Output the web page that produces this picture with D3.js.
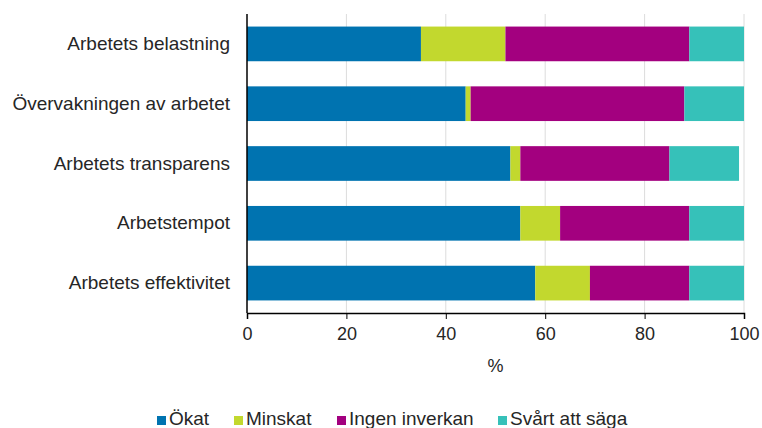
<!DOCTYPE html>
<html>
<head>
<meta charset="utf-8">
<script src="https://cdn.jsdelivr.net/npm/d3@7"></script>
<style>
    body { margin: 0; background: #fff; }
    svg text { font-family: 'Liberation Sans', Arial, sans-serif; fill: #262626; }
</style>
</head>
<body>
<div id="chart"></div>
<script>
const CATEGORIES = [
    'Arbetets belastning',
    'Övervakningen av arbetet',
    'Arbetets transparens',
    'Arbetstempot',
    'Arbetets effektivitet'
];
const SERIES = ['Ökat', 'Minskat', 'Ingen inverkan', 'Svårt att säga'];
const OKAT = [35, 44, 53, 55, 58];
const MINSKAT = [17, 1, 2, 8, 11];
const INGEN = [37, 43, 30, 26, 20];
const SVART = [11, 12, 14, 11, 11];
const X_TICKS = [0, 20, 40, 60, 80, 100];
const COLORS = ['#0073b0', '#c2d82e', '#a3007f', '#36c1b9'];

const initChart = () => {
    const width = 762;
    const height = 428;
    const margin = { top: 14, right: 18, bottom: 115, left: 247 };

    const rows = CATEGORIES.map((c, i) => ({
        cat: c,
        'Ökat': OKAT[i],
        'Minskat': MINSKAT[i],
        'Ingen inverkan': INGEN[i],
        'Svårt att säga': SVART[i]
    }));
    const stacked = d3.stack().keys(SERIES)(rows);

    const svg = d3
        .select('#chart')
        .append('svg')
        .attr('width', width)
        .attr('height', height);

    const x = d3
        .scaleLinear()
        .domain([0, 100])
        .range([margin.left, 744]);
    const y = d3
        .scaleBand()
        .domain(CATEGORIES)
        .range([margin.top, 313])
        .paddingInner(0.42)
        .paddingOuter(0.21);
    const color = d3.scaleOrdinal().domain(SERIES).range(COLORS);

    // vertical grid lines
    svg.append('g')
        .selectAll('line')
        .data(X_TICKS.slice(1))
        .enter()
        .append('line')
        .attr('x1', (d) => x(d))
        .attr('x2', (d) => x(d))
        .attr('y1', margin.top)
        .attr('y2', 313)
        .attr('stroke', '#dcdcdc')
        .attr('stroke-width', 1);

    // stacked bars
    svg.append('g')
        .selectAll('g')
        .data(stacked)
        .enter()
        .append('g')
        .attr('fill', (d) => color(d.key))
        .selectAll('rect')
        .data((d) => d)
        .enter()
        .append('rect')
        .attr('x', (d) => x(d[0]))
        .attr('y', (d) => y(d.data.cat))
        .attr('width', (d) => x(d[1]) - x(d[0]))
        .attr('height', y.bandwidth());

    // x axis
    const xAxis = d3
        .axisBottom(x)
        .tickValues(X_TICKS)
        .tickSize(6)
        .tickPadding(8)
        .tickFormat(d3.format('d'));
    const gx = svg
        .append('g')
        .attr('transform', 'translate(0,313)')
        .call(xAxis);
    gx.select('.domain').attr('stroke', '#000').attr('stroke-width', 1.5);
    gx.selectAll('.tick line').attr('stroke', '#000');
    gx.selectAll('.tick text').style('font-size', '18px');

    svg.append('text')
        .attr('x', x(50))
        .attr('y', 372)
        .attr('text-anchor', 'middle')
        .style('font-size', '18px')
        .text('%');

    // y axis
    const yAxis = d3.axisLeft(y).tickSize(0).tickPadding(17);
    const gy = svg
        .append('g')
        .attr('transform', 'translate(' + margin.left + ',0)')
        .call(yAxis);
    gy.select('.domain')
        .attr('stroke', '#000')
        .attr('stroke-width', 1.5)
        .attr('d', 'M0,' + margin.top + 'V313');
    gy.selectAll('.tick text').style('font-size', '19px');

    // legend
    const legendX = [157, 234, 337, 498];
    const legend = svg
        .append('g')
        .selectAll('g')
        .data(SERIES)
        .enter()
        .append('g')
        .attr('transform', (d, i) => 'translate(' + legendX[i] + ',416)');
    legend
        .append('rect')
        .attr('width', 9)
        .attr('height', 9)
        .attr('fill', (d) => color(d));
    legend
        .append('text')
        .attr('x', 12)
        .attr('y', 9)
        .style('font-size', '19px')
        .text((d) => d);
};

document.addEventListener('DOMContentLoaded', initChart);
</script>
</body>
</html>
